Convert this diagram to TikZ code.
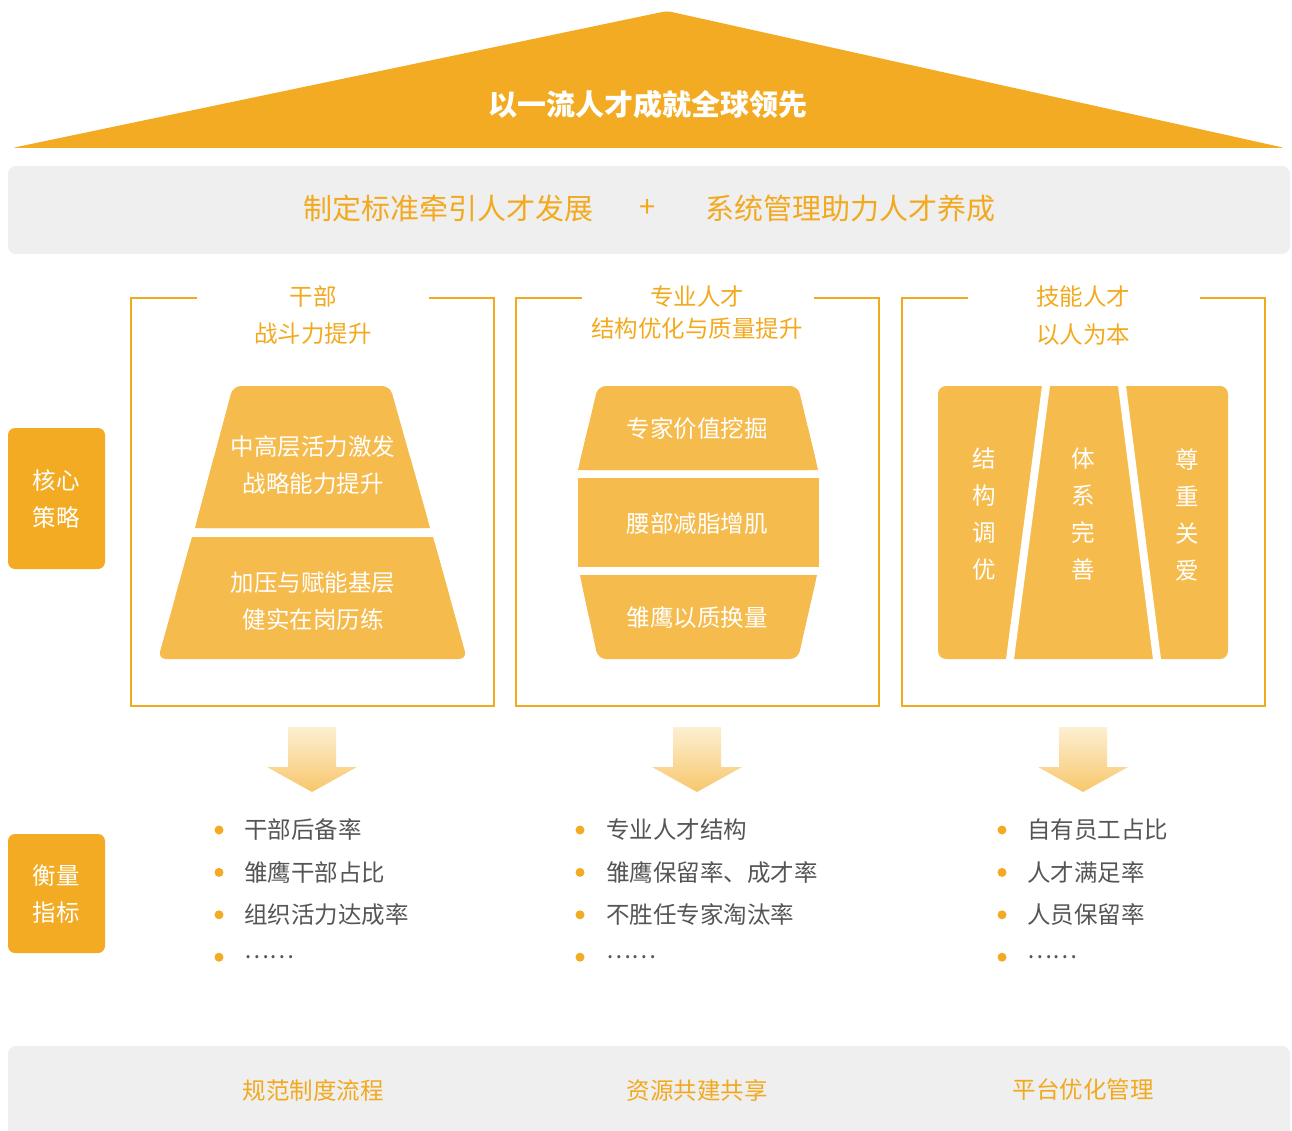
\documentclass[tikz,border=0pt]{standalone}
\usepackage{fontspec}
\setmainfont{Noto Sans CJK SC}
\usetikzlibrary{positioning}
\definecolor{roofgold}{RGB}{242,171,34}
\definecolor{blockgold}{RGB}{245,187,77}
\definecolor{bandgrey}{RGB}{239,239,239}
\definecolor{textgold}{RGB}{242,169,30}
\definecolor{textgrey}{RGB}{85,85,85}
\definecolor{arrowtop}{RGB}{253,239,210}
\definecolor{arrowbot}{RGB}{247,199,108}

\tikzset{
  txt/.style={inner sep=0pt, align=center, font=\fontsize{23.5}{37}\selectfont},
  bigtxt/.style={inner sep=0pt, font=\fontsize{29}{34}\selectfont},
  frame/.style={textgold, line width=2pt},
  block/.style={fill=blockgold},
  sidebox/.style={fill=roofgold, rounded corners=7pt},
  metric/.style={txt, anchor=west, text=textgrey},
}

\begin{document}
\begin{tikzpicture}[x=1pt, y=-1pt]
  \useasboundingbox (0,0) rectangle (1292,1131);

  % roof
  \fill[roofgold, rounded corners=4pt] (12,148) -- (667,11) -- (1285,148) -- cycle;
  \node[bigtxt, text=white, font=\fontsize{29}{34}\selectfont\bfseries] (roof) at (648,104) {以一流人才成就全球领先};

  % top band
  \fill[bandgrey, rounded corners=8pt] (8,166) rectangle (1290,254);
  \node[bigtxt, text=textgold] (standard) at (448,208) {制定标准牵引人才发展};
  \node[bigtxt, text=textgold] (plus) at (648,208) {+};
  \node[bigtxt, text=textgold] (system) at (850,208) {系统管理助力人才养成};

  % column frames
  \foreach \cx in {313,698,1084}
    \draw[frame] ({\cx-116},298) -- ({\cx-182},298) -- ({\cx-182},706)
      -- ({\cx+181},706) -- ({\cx+181},298) -- ({\cx+116},298);

  \node[txt, text=textgold] (cadre) at (313,297) {干部};
  \node[txt, text=textgold] (cadresub) at (313,334) {战斗力提升};
  \node[txt, text=textgold] (expert) at (697,297) {专业人才};
  \node[txt, text=textgold] (expertsub) at (697,329) {结构优化与质量提升};
  \node[txt, text=textgold] (skill) at (1083,297) {技能人才};
  \node[txt, text=textgold] (skillsub) at (1083,335) {以人为本};

  % side labels
  \fill[sidebox] (8,428) rectangle (105,569);
  \node[txt, text=white] (core) at (56,499.5) {核心\\策略};
  \fill[sidebox] (8,834) rectangle (105,953);
  \node[txt, text=white] (measure) at (56,894.5) {衡量\\指标};

  % pyramid
  \fill[block, rounded corners=8pt] (195,528) -- (233,386) -- (390,386) -- (430,528) -- cycle;
  \fill[block] (214,457) -- (195,528) -- (430,528) -- (410,457) -- cycle;
  \fill[block, rounded corners=8pt] (192,537) -- (433,537) -- (467,659) -- (158,659) -- cycle;
  \fill[block] (192,537) -- (433,537) -- (450,598) -- (175,598) -- cycle;
  \node[txt, text=white] (upper) at (313,465) {中高层活力激发\\战略能力提升};
  \node[txt, text=white] (lower) at (313,601.5) {加压与赋能基层\\健实在岗历练};

  % barrel
  \fill[block, rounded corners=8pt] (578,470) -- (598,386) -- (798,386) -- (818,470) -- cycle;
  \fill[block] (588,428) -- (578,470) -- (818,470) -- (808,428) -- cycle;
  \fill[block] (578,478) rectangle (819,567);
  \fill[block, rounded corners=8pt] (580,575) -- (817,575) -- (798,659) -- (598,659) -- cycle;
  \fill[block] (580,575) -- (817,575) -- (807,617) -- (589,617) -- cycle;
  \node[txt, text=white] (value) at (697,429) {专家价值挖掘};
  \node[txt, text=white] (waist) at (697,524) {腰部减脂增肌};
  \node[txt, text=white] (eagle) at (697,618) {雏鹰以质换量};

  % pillars
  \fill[block, rounded corners=8pt] (938,386) rectangle (1228,659);
  \fill[white] (1042.1,385) -- (1050.1,385) -- (1013.9,660) -- (1005.9,660) -- cycle;
  \fill[white] (1117.9,385) -- (1125.9,385) -- (1161.1,660) -- (1153.1,660) -- cycle;
  \node[txt, text=white] (struct) at (984,514.5) {结\\构\\调\\优};
  \node[txt, text=white] (systemp) at (1083,514.5) {体\\系\\完\\善};
  \node[txt, text=white] (respect) at (1187,514.5) {尊\\重\\关\\爱};

  % down arrows
  \foreach \cx in {312,697,1083}
    \shade[top color=arrowtop, bottom color=arrowbot] ({\cx-24},727) -- ({\cx+24},727)
      -- ({\cx+24},767) -- ({\cx+45},767) -- (\cx,792) -- ({\cx-45},767) -- ({\cx-24},767) -- cycle;

  % metrics
  \foreach \t [count=\i] in {干部后备率, 雏鹰干部占比, 组织活力达成率, ……} {
    \fill[roofgold] (219,{830+(\i-1)*42.4}) circle (4.5);
    \node[metric] (cadrem\i) at (244,{830+(\i-1)*42.4}) {\t};
  }
  \foreach \t [count=\i] in {专业人才结构, 雏鹰保留率、成才率, 不胜任专家淘汰率, ……} {
    \fill[roofgold] (580,{830+(\i-1)*42.4}) circle (4.5);
    \node[metric] (expertm\i) at (606,{830+(\i-1)*42.4}) {\t};
  }
  \foreach \t [count=\i] in {自有员工占比, 人才满足率, 人员保留率, ……} {
    \fill[roofgold] (1002,{830+(\i-1)*42.4}) circle (4.5);
    \node[metric] (skillm\i) at (1027,{830+(\i-1)*42.4}) {\t};
  }

  % bottom band
  \fill[bandgrey, rounded corners=8pt] (8,1046) rectangle (1290,1150);
  \node[txt, text=textgold] (rules) at (313,1090) {规范制度流程};
  \node[txt, text=textgold] (share) at (697,1090) {资源共建共享};
  \node[txt, text=textgold] (platform) at (1083,1090) {平台优化管理};
\end{tikzpicture}
\end{document}
